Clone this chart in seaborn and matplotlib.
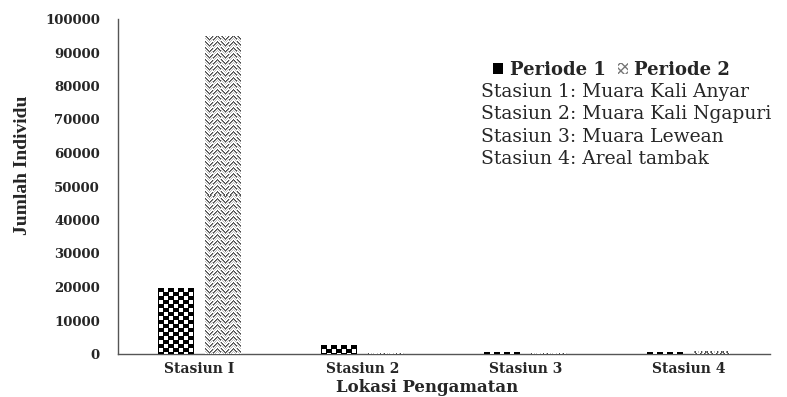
import numpy as np
import pandas as pd
import matplotlib
matplotlib.use("Agg")
import matplotlib.pyplot as plt
import seaborn as sns
from matplotlib.patches import Patch

# ---- data ----
stations = ["Stasiun I", "Stasiun 2", "Stasiun 3", "Stasiun 4"]
periode1 = [19700, 2600, 700, 500]
periode2 = [95000, 250, 200, 900]
series_names = ["Periode 1", "Periode 2"]
y_ticks = [0, 10000, 20000, 30000, 40000, 50000, 60000, 70000, 80000, 90000, 100000]
station_notes = ["Stasiun 1: Muara Kali Anyar",
                 "Stasiun 2: Muara Kali Ngapuri",
                 "Stasiun 3: Muara Lewean",
                 "Stasiun 4: Areal tambak"]

df = pd.DataFrame({
    "Lokasi": stations * 2,
    "Jumlah": periode1 + periode2,
    "Periode": [series_names[0]] * len(stations) + [series_names[1]] * len(stations),
})

sns.set_theme(style="white")
plt.rcParams["font.family"] = ["DejaVu Serif"]

fig = plt.figure(figsize=(7.87, 3.97), dpi=100)
ax = fig.add_axes([118 / 787, 1 - 354 / 397, (770 - 118) / 787, (354 - 19) / 397])

sns.barplot(data=df, x="Lokasi", y="Jumlah", hue="Periode", order=stations,
            hue_order=series_names, width=0.58, gap=0.24, ax=ax,
            palette=["white", "white"], linewidth=0, legend=False, errorbar=None)

ax.set_ylim(0, 100000)
ax.set_xlim(-0.5, len(stations) - 0.5)
ax.set_yticks(y_ticks)
ax.set_yticklabels([str(v) for v in y_ticks], fontsize=9.5, fontweight="bold")
ax.tick_params(axis="y", length=0, pad=13)
ax.tick_params(axis="x", length=0, pad=6)
for lab in ax.get_xticklabels():
    lab.set_fontsize(10)
    lab.set_fontweight("bold")

for s in ["top", "right"]:
    ax.spines[s].set_visible(False)
for s in ["left", "bottom"]:
    ax.spines[s].set_color("#555555")
    ax.spines[s].set_linewidth(1.0)

ax.set_xlabel("Lokasi Pengamatan", fontsize=12, fontweight="bold", labelpad=2)
ax.xaxis.set_label_coords((427 - 118) / 652, -0.075)
ax.set_ylabel("Jumlah Individu", fontsize=14, fontweight="bold",
              family="Liberation Serif")
ax.yaxis.set_label_coords((31 - 118) / 652, (354 - 165) / 335)


def checker(h, w):
    yy, xx = np.mgrid[0:h, 0:w]
    row = yy // 4
    shift = (row % 2) * 5
    black = ((xx + shift) % 10) < 6
    return np.where(black, 0.0, 1.0)


def zigzag(h, w):
    yy, xx = np.mgrid[0:h, 0:w]
    phase = xx % 8
    off = np.where(phase < 4, phase, 8 - phase)
    block = (xx // 8) % 2
    off = np.where(block == 0, off, 4 - off)
    r = (yy - off) % 6
    arr = np.ones((h, w))
    arr[r == 0] = 0.3
    arr[r == 1] = 0.55
    arr[r == 3] = 0.75
    return arr


fig.canvas.draw()
patches = list(ax.patches)
n = len(stations)
for i, p in enumerate(patches):
    bb = p.get_window_extent()
    w = max(1, int(round(bb.width)))
    h = max(1, int(round(bb.height)))
    tex = checker(h, w) if i < n else zigzag(h, w)
    x0 = p.get_x()
    ext = [x0, x0 + p.get_width(), p.get_y(), p.get_y() + p.get_height()]
    im = ax.imshow(tex, extent=ext, origin="upper", aspect="auto", cmap="gray",
                   vmin=0, vmax=1, interpolation="nearest", zorder=3)
    im.set_clip_path(p)

ax.set_ylim(0, 100000)
ax.set_xlim(-0.5, len(stations) - 0.5)
ax.set_aspect("auto")

handles = [Patch(facecolor="black", edgecolor="black", linewidth=0),
           Patch(facecolor="white", edgecolor="#777777", hatch="xxxx", linewidth=0)]
leg = fig.legend(handles, series_names, loc="center left",
                 bbox_to_anchor=(477 / 787, 1 - 70 / 397), ncol=2, frameon=False,
                 handlelength=0.55, handleheight=0.55, handletextpad=0.35,
                 columnspacing=0.7, prop={"weight": "bold", "size": 13})

for k, note in enumerate(station_notes):
    fig.text(481 / 787, 1 - (92 + 22.3 * k) / 397, note, fontsize=13.5,
             va="center", ha="left")

fig.savefig("out.png", dpi=100)
